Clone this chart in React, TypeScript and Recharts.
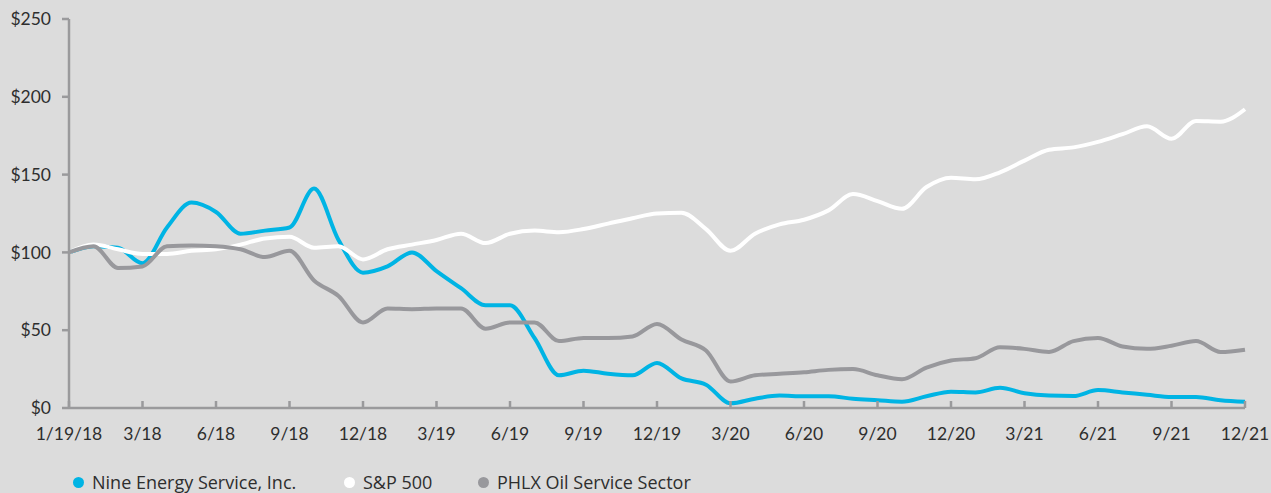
import { LineChart, Line, XAxis, YAxis } from "recharts";

const tickLabels = ["1/19/18", "3/18", "6/18", "9/18", "12/18", "3/19", "6/19", "9/19", "12/19", "3/20", "6/20", "9/20", "12/20", "3/21", "6/21", "9/21", "12/21"];

// monthly points, index 0 = 1/19/18, index 48 = 12/21
const nine = [100, 104, 103, 93, 116, 132, 126, 112, 114, 116, 141, 108, 87, 91, 100, 88, 77, 66, 66, 45, 21, 24, 22, 21, 29, 19, 15, 3, 6, 8, 7.5, 7.5, 6, 5, 4, 7.5, 10.5, 10, 13, 9.5, 8, 7.7, 11.5, 10, 8.5, 7, 7, 5, 4];
const sp500 = [100, 105, 102, 99, 99, 101, 102, 105, 109, 110, 103, 104, 95.5, 102, 105, 108, 112, 106, 112, 114, 113, 115, 118.5, 122, 125, 125.5, 115, 101, 112, 118, 121, 127, 137.5, 133, 128, 142, 148, 147, 151.5, 159, 166, 167.5, 171, 176, 181, 173, 184.5, 184, 192];
const phlx = [100, 104, 90, 91, 104, 104.5, 104, 102, 97, 101, 82, 72, 55, 64, 63.5, 64, 64, 51, 55, 55, 43, 45, 45, 46, 54, 44, 37, 17, 21, 22, 23, 24.5, 25, 21, 18.5, 26, 30.5, 32, 39, 38, 36, 43, 45, 39.5, 38, 40, 43, 36, 37.5];

const yTicks = [0, 50, 100, 150, 200, 250];

const data = nine.map((v, i) => ({ i, nine: v, sp: sp500[i], phlx: phlx[i] }));

const FONT = "Lato, 'DejaVu Sans', sans-serif";
const LEGEND_FONT = "'Open Sans', Lato, sans-serif";
const AXIS = "#9a9a9c";
const TEXT = "#2e2e2e";
const CYAN = "#00b4e4";
const GREY = "#98989c";

const series = [
  { key: "nine", name: "Nine Energy Service, Inc.", color: CYAN },
  { key: "sp", name: "S&P 500", color: "#ffffff" },
  { key: "phlx", name: "PHLX Oil Service Sector", color: GREY },
];

function XTick({ x, y, payload }: any) {
  return (
    <g>
      <line x1={x} x2={x} y1={y - 7} y2={y} stroke={AXIS} strokeWidth={2.5} />
      <text x={x} y={y + 32} textAnchor="middle" fill={TEXT} fontSize={17.5} fontFamily={FONT}>
        {tickLabels[payload.value / 3]}
      </text>
    </g>
  );
}

export default function App() {
  const legendLeft = [73, 344, 478];
  return (
    <div style={{ position: "absolute", left: 0, top: 0, width: 1271, height: 493, background: "#dcdcdc", overflow: "hidden" }}>
      <LineChart width={1271} height={493} data={data} margin={{ top: 19, right: 26, bottom: 40, left: 0 }}>
        <XAxis
          dataKey="i"
          type="number"
          domain={[0, 48]}
          ticks={tickLabels.map((_, k) => k * 3)}
          interval={0}
          height={45}
          tickSize={0}
          tickMargin={0}
          tickLine={false}
          axisLine={{ stroke: AXIS, strokeWidth: 2.5 }}
          tick={<XTick />}
        />
        <YAxis
          domain={[0, 250]}
          ticks={yTicks}
          width={69}
          tickSize={7}
          tickMargin={11}
          tickFormatter={(v) => `$${v}`}
          axisLine={{ stroke: AXIS, strokeWidth: 2.5 }}
          tickLine={{ stroke: AXIS, strokeWidth: 2.5 }}
          tick={{ fill: TEXT, fontSize: 17.5, fontFamily: FONT }}
        />
        {series.map((s) => (
          <Line
            key={s.key}
            type="monotone"
            dataKey={s.key}
            stroke={s.color}
            strokeWidth={4}
            dot={false}
            isAnimationActive={false}
          />
        ))}
      </LineChart>
      {series.map((s, k) => (
        <div
          key={s.key}
          style={{ position: "absolute", left: legendLeft[k], top: 472, height: 20, lineHeight: "20px", display: "flex", alignItems: "center", fontFamily: LEGEND_FONT, fontSize: 18, color: TEXT, whiteSpace: "nowrap" }}
        >
          <span style={{ width: 11, height: 11, borderRadius: "50%", background: s.color, marginRight: 8, display: "inline-block" }} />
          {s.name}
        </div>
      ))}
    </div>
  );
}
